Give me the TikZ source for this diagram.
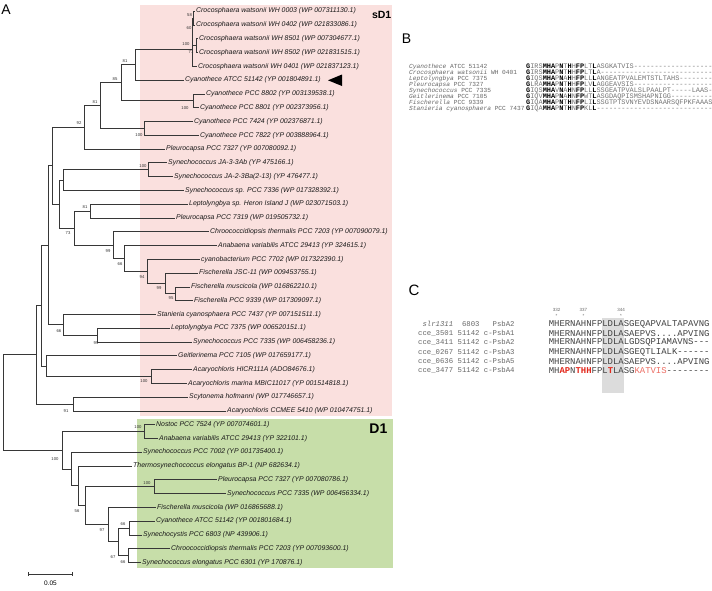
\documentclass[tikz,border=0pt]{standalone}
\usepackage{fontspec}
\setmainfont{Liberation Sans}
\setmonofont{Liberation Mono}
\usetikzlibrary{calc,positioning,arrows.meta}

\definecolor{sdpink}{RGB}{250,224,222}
\definecolor{dgreen}{RGB}{199,222,169}
\definecolor{branchgray}{RGB}{55,55,55}
\definecolor{hlgray}{RGB}{220,220,220}
\definecolor{mutred}{RGB}{226,40,28}
\definecolor{mutpink}{RGB}{236,110,100}

\tikzset{
  leaf/.style={anchor=west, inner xsep=1pt, inner ysep=0pt, text=black!90,
    font=\fontsize{6.9}{7}\selectfont\itshape},
  boot/.style={inner sep=0pt, text=black!80, font=\fontsize{4.2}{4.2}\selectfont},
  branch/.style={draw=branchgray, line width=0.6pt},
  panel/.style={inner sep=0pt, font=\fontsize{14}{14}\selectfont},
  bname/.style={anchor=west, inner sep=0pt, text height=3.6pt, text depth=1pt, text=black!60,
    font=\ttfamily\fontsize{6.2}{6.2}\selectfont},
  bseq/.style={anchor=west, inner sep=0pt, text height=4pt, text depth=1pt, text=black!55,
    font=\ttfamily\fontsize{6.9}{6.9}\selectfont},
  cname/.style={anchor=west, inner sep=0pt, text=black!60, font=\ttfamily\fontsize{7.3}{7.3}\selectfont},
  cseq/.style={anchor=west, inner sep=0pt, text=black!75, font=\ttfamily\fontsize{8.93}{8.93}\selectfont},
  cpos/.style={inner sep=0pt, text=black!60, font=\fontsize{4.5}{4.5}\selectfont},
}
\newcommand{\cv}[1]{\textbf{\color{black}#1}}
\newcommand{\mt}[1]{\textbf{\color{mutred}#1}}

\begin{document}
\begin{tikzpicture}[x=1pt,y=-1pt]

    \useasboundingbox (0,0) rectangle (712,590);

    % clade boxes
    \fill[sdpink] (140,5) rectangle (392,416);
    \fill[dgreen] (137,419) rectangle (393,568);
    \node[anchor=east, inner sep=0pt, font=\bfseries\fontsize{10.5}{10.5}\selectfont] (sd1) at (391.5,15) {sD1};
    \node[anchor=east, inner sep=0pt, font=\bfseries\fontsize{14}{14}\selectfont] (d1) at (387.5,429) {D1};

    \node[panel] (pA) at (6,10) {A};
    \node[panel] (pB) at (406.5,38.5) {B};
    \node[panel, font=\fontsize{15}{15}\selectfont] (pC) at (414,290) {C};

    % ---- tree, y in leaf rows
    \begin{scope}[y=-13.78pt, yshift=2.58pt]

    \node[leaf] (L1) at (195,1) {Crocosphaera watsonii WH 0003 (WP 007311130.1)};
    \node[leaf] (L2) at (195,2) {Crocosphaera watsonii WH 0402 (WP 021833086.1)};
    \node[leaf] (L3) at (198,3) {Crocosphaera watsonii WH 8501 (WP 007304677.1)};
    \node[leaf] (L4) at (198,4) {Crocosphaera watsonii WH 8502 (WP 021831515.1)};
    \node[leaf] (L5) at (197,5) {Crocosphaera watsonii WH 0401 (WP 021837123.1)};
    \node[leaf] (L6) at (184,6) {Cyanothece ATCC 51142 (YP 001804891.1)};
    \node[leaf] (L7) at (205,7) {Cyanothece PCC 8802 (YP 003139538.1)};
    \node[leaf] (L8) at (199,8) {Cyanothece PCC 8801 (YP 002373956.1)};
    \node[leaf] (L9) at (193,9) {Cyanothece PCC 7424 (YP 002376871.1)};
    \node[leaf] (L10) at (199,10) {Cyanothece PCC 7822 (YP 003888964.1)};
    \node[leaf] (L11) at (165,11) {Pleurocapsa PCC 7327 (YP 007080092.1)};
    \node[leaf] (L12) at (167,12) {Synechococcus JA-3-3Ab (YP 475166.1)};
    \node[leaf] (L13) at (173,13) {Synechococcus JA-2-3Ba(2-13) (YP 476477.1)};
    \node[leaf] (L14) at (184,14) {Synechococcus sp. PCC 7336 (WP 017328392.1)};
    \node[leaf] (L15) at (188,15) {Leptolyngbya sp. Heron Island J (WP 023071503.1)};
    \node[leaf] (L16) at (175,16) {Pleurocapsa PCC 7319 (WP 019505732.1)};
    \node[leaf] (L17) at (209,17) {Chroococcidiopsis thermalis PCC 7203 (YP 007090079.1)};
    \node[leaf] (L18) at (217,18) {Anabaena variabilis ATCC 29413 (YP 324615.1)};
    \node[leaf] (L19) at (200,19) {cyanobacterium PCC 7702 (WP 017322390.1)};
    \node[leaf] (L20) at (198,20) {Fischerella JSC-11 (WP 009453755.1)};
    \node[leaf] (L21) at (190,21) {Fischerella muscicola (WP 016862210.1)};
    \node[leaf] (L22) at (193,22) {Fischerella PCC 9339 (WP 017309097.1)};
    \node[leaf] (L23) at (156,23) {Stanieria cyanosphaera PCC 7437 (YP 007151511.1)};
    \node[leaf] (L24) at (170,24) {Leptolyngbya PCC 7375 (WP 006520151.1)};
    \node[leaf] (L25) at (192,25) {Synechococcus PCC 7335 (WP 006458236.1)};
    \node[leaf] (L26) at (177,26) {Geitlerinema PCC 7105 (WP 017659177.1)};
    \node[leaf] (L27) at (192,27) {Acaryochloris HICR111A (ADO84676.1)};
    \node[leaf] (L28) at (187,28) {Acaryochloris marina MBIC11017 (YP 001514818.1)};
    \node[leaf] (L29) at (188,29) {Scytonema hofmanni (WP 017746657.1)};
    \node[leaf] (L30) at (226,30) {Acaryochloris CCMEE 5410 (WP 010474751.1)};
    \node[leaf] (L31) at (155,31) {Nostoc PCC 7524 (YP 007074601.1)};
    \node[leaf] (L32) at (158,32) {Anabaena variabilis ATCC 29413 (YP 322101.1)};
    \node[leaf] (L33) at (142,33) {Synechococcus PCC 7002 (YP 001735400.1)};
    \node[leaf] (L34) at (132,34) {Thermosynechococcus elongatus BP-1 (NP 682634.1)};
    \node[leaf] (L35) at (217,35) {Pleurocapsa PCC 7327 (YP 007080786.1)};
    \node[leaf] (L36) at (226,36) {Synechococcus PCC 7335 (WP 006456334.1)};
    \node[leaf] (L37) at (156,37) {Fischerella muscicola (WP 016865688.1)};
    \node[leaf] (L38) at (155,38) {Cyanothece ATCC 51142 (YP 001801684.1)};
    \node[leaf] (L39) at (142,39) {Synechocystis PCC 6803 (NP 439906.1)};
    \node[leaf] (L40) at (170,40) {Chroococcidiopsis thermalis PCC 7203 (YP 007093600.1)};
    \node[leaf] (L41) at (141,41) {Synechococcus elongatus PCC 6301 (YP 170876.1)};

    % inner nodes
    \coordinate (N58) at (193.2,1.5);
    \coordinate (N71) at (196,3.5);
    \coordinate (N60) at (192.6,2.5);
    \coordinate (N100c) at (192,3.75);
    \coordinate (N81a) at (135,4.875);
    \coordinate (N100b) at (193,7.5);
    \coordinate (N85) at (121,6.19);
    \coordinate (N100d) at (144,9.5);
    \coordinate (N81b) at (100,7.84);
    \coordinate (N92) at (84,9.42);
    \coordinate (NJA) at (148,12.5);
    \coordinate (NJB) at (63,13.25);
    \coordinate (N81c) at (90.5,15.5);
    \coordinate (N95) at (175,21.5);
    \coordinate (N99b) at (165,20.75);
    \coordinate (N94) at (147,19.875);
    \coordinate (N66a) at (124,18.94);
    \coordinate (N99a) at (113,17.97);
    \coordinate (N73) at (74,16.73);
    \coordinate (ND) at (59,14.99);
    \coordinate (NC) at (52,12.2);
    \coordinate (N99c) at (97,24.5);
    \coordinate (N66b) at (63,23.75);
    \coordinate (NB) at (48,17.98);
    \coordinate (N100e) at (151,27.5);
    \coordinate (NGA) at (46,26.75);
    \coordinate (NA) at (41,22.36);
    \coordinate (N91) at (73,29.5);
    \coordinate (NS) at (36,25.93);
    \coordinate (N100f) at (144,31.5);
    \coordinate (NM) at (128,40.5);
    \coordinate (NL) at (129,38.5);
    \coordinate (NK) at (118,39.5);
    \coordinate (NJ) at (108,38.25);
    \coordinate (N100g) at (154,35.5);
    \coordinate (NI) at (85,36.875);
    \coordinate (NH) at (78,35.44);
    \coordinate (NG) at (71,34.22);
    \coordinate (ND1) at (62,32.86);
    \coordinate (root) at (3,29.4);

    % branches
    \draw[branch] (N58) |- (L1.west) (N58) |- (L2.west);
    \draw[branch] (N71) |- (L3.west) (N71) |- (L4.west);
    \draw[branch] (N60) |- (N58) (N60) |- (N71);
    \draw[branch] (N100c) |- (N60) (N100c) |- (L5.west);
    \draw[branch] (N81a) |- (N100c) (N81a) |- (L6.west);
    \draw[branch] (N100b) |- (L7.west) (N100b) |- (L8.west);
    \draw[branch] (N85) |- (N81a) (N85) |- (N100b);
    \draw[branch] (N100d) |- (L9.west) (N100d) |- (L10.west);
    \draw[branch] (N81b) |- (N85) (N81b) |- (N100d);
    \draw[branch] (N92) |- (N81b) (N92) |- (L11.west);
    \draw[branch] (NJA) |- (L12.west) (NJA) |- (L13.west);
    \draw[branch] (NJB) |- (NJA) (NJB) |- (L14.west);
    \draw[branch] (N81c) |- (L15.west) (N81c) |- (L16.west);
    \draw[branch] (N95) |- (L21.west) (N95) |- (L22.west);
    \draw[branch] (N99b) |- (L20.west) (N99b) |- (N95);
    \draw[branch] (N94) |- (L19.west) (N94) |- (N99b);
    \draw[branch] (N66a) |- (L18.west) (N66a) |- (N94);
    \draw[branch] (N99a) |- (L17.west) (N99a) |- (N66a);
    \draw[branch] (N73) |- (N81c) (N73) |- (N99a);
    \draw[branch] (ND) |- (NJB) (ND) |- (N73);
    \draw[branch] (NC) |- (N92) (NC) |- (ND);
    \draw[branch] (N99c) |- (L24.west) (N99c) |- (L25.west);
    \draw[branch] (N66b) |- (L23.west) (N66b) |- (N99c);
    \draw[branch] (NB) |- (NC) (NB) |- (N66b);
    \draw[branch] (N100e) |- (L27.west) (N100e) |- (L28.west);
    \draw[branch] (NGA) |- (L26.west) (NGA) |- (N100e);
    \draw[branch] (NA) |- (NB) (NA) |- (NGA);
    \draw[branch] (N91) |- (L29.west) (N91) |- (L30.west);
    \draw[branch] (NS) |- (NA) (NS) |- (N91);
    \draw[branch] (N100f) |- (L31.west) (N100f) |- (L32.west);
    \draw[branch] (NM) |- (L40.west) (NM) |- (L41.west);
    \draw[branch] (NL) |- (L38.west) (NL) |- (L39.west);
    \draw[branch] (NK) |- (NL) (NK) |- (NM);
    \draw[branch] (NJ) |- (L37.west) (NJ) |- (NK);
    \draw[branch] (N100g) |- (L35.west) (N100g) |- (L36.west);
    \draw[branch] (NI) |- (N100g) (NI) |- (NJ);
    \draw[branch] (NH) |- (L34.west) (NH) |- (NI);
    \draw[branch] (NG) |- (L33.west) (NG) |- (NH);
    \draw[branch] (ND1) |- (N100f) (ND1) |- (NG);
    \draw[branch] (root) |- (NS) (root) |- (ND1);

    \end{scope}

    % bootstrap values
    \node[boot] (b58) at (189.5,14.7) {58};
    \node[boot] (b60) at (189,28.3) {60};
    \node[boot] (b100c) at (186,44.3) {100};
    \node[boot] (b71) at (191,51.7) {71};
    \node[boot] (b81a) at (125,61) {81};
    \node[boot] (b85) at (115,79) {85};
    \node[boot] (b100b) at (185,108) {100};
    \node[boot] (b81b) at (95,102) {81};
    \node[boot] (b92) at (79,123) {92};
    \node[boot] (b100d) at (139,135) {100};
    \node[boot] (bJA) at (143,165.7) {100};
    \node[boot] (b81c) at (85,207.3) {81};
    \node[boot] (b73) at (68,233.3) {73};
    \node[boot] (b99a) at (108,250.7) {99};
    \node[boot] (b66a) at (120,264) {66};
    \node[boot] (b94) at (142,276.7) {94};
    \node[boot] (b99b) at (159,288.3) {99};
    \node[boot] (b95) at (171,298.5) {95};
    \node[boot] (b66b) at (59,330.7) {66};
    \node[boot] (b99c) at (96,343.3) {99};
    \node[boot] (b100e) at (144,380.7) {100};
    \node[boot] (b91) at (66,410.7) {91};
    \node[boot] (b100f) at (138,426.7) {100};
    \node[boot] (bD1) at (55,459) {100};
    \node[boot] (b100g) at (147,482.7) {100};
    \node[boot] (b56) at (77,510.7) {56};
    \node[boot] (b97) at (102,530) {97};
    \node[boot] (b66c) at (123,524.3) {66};
    \node[boot] (b67) at (113,556.7) {67};
    \node[boot] (b66d) at (123,561.7) {66};

    % marker for ATCC 51142
    \fill (328,80.3) -- (342,74.5) -- (342,86) -- cycle;

    % scale bar
    \coordinate (s0) at (28,574);
    \coordinate (s1) at (73,574);
    \draw[branch, {Bar[width=4pt]}-{Bar[width=4pt]}] (s0) -- (s1);
    \node[inner sep=0pt, font=\fontsize{6.5}{6.5}\selectfont] (sc) at (50.5,583) {0.05};

    % ---- panel B
    \node[bname] (bn1) at (409,66.7) {\textit{Cyanothece} ATCC 51142};
    \node[bname] (bn2) at (409,72.75) {\textit{Crocosphaera watsonii} WH 0401};
    \node[bname] (bn3) at (409,78.8) {\textit{Leptolyngbya} PCC 7375};
    \node[bname] (bn4) at (409,84.85) {\textit{Pleurocapsa} PCC 7327};
    \node[bname] (bn5) at (409,90.9) {\textit{Synechococcus} PCC 7335};
    \node[bname] (bn6) at (409,96.95) {\textit{Geitlerinema} PCC 7105};
    \node[bname] (bn7) at (409,103) {\textit{Fischerella} PCC 9339};
    \node[bname] (bn8) at (409,109.05) {\textit{Stanieria cyanosphaera} PCC 7437};

    \node[bseq] (bs1) at (526,66.7) {\cv{G}IRS\cv{MHA}P\cv{N}T\cv{H}H\cv{FP}LT\cv{L}ASGKATVIS-------------------};
    \node[bseq] (bs2) at (526,72.75) {\cv{G}IRS\cv{MHA}P\cv{N}T\cv{H}H\cv{FP}LT\cv{L}A---------------------------};
    \node[bseq] (bs3) at (526,78.8) {\cv{G}IQS\cv{MHA}P\cv{N}A\cv{H}H\cv{FP}LL\cv{L}ANGEATPVALEMTSTLTAHS--------};
    \node[bseq] (bs4) at (526,84.85) {\cv{G}LRA\cv{MHA}P\cv{N}T\cv{H}H\cv{FP}LV\cv{L}AGGEAVSIS-------------------};
    \node[bseq] (bs5) at (526,90.9) {\cv{G}IQS\cv{MHA}V\cv{N}A\cv{H}N\cv{FP}LL\cv{L}SSGEATPVALSLPAALPT-----LAAS-};
    \node[bseq] (bs6) at (526,96.95) {\cv{G}IQV\cv{MHA}P\cv{N}A\cv{H}N\cv{FP}WT\cv{L}ASGDAQPISMSHAPNIGG----------};
    \node[bseq] (bs7) at (526,103) {\cv{G}IQA\cv{MHA}P\cv{N}T\cv{H}N\cv{FP}LI\cv{L}SSGTPTSVNYEVDSNAARSQFPKFAAAS};
    \node[bseq] (bs8) at (526,109.05) {\cv{G}IQA\cv{MHA}P\cv{N}T\cv{H}N\cv{FP}KL\cv{L}----------------------------};

    % ---- panel C
    \fill[hlgray] (602.2,318) rectangle (623.6,393);

    \node[cpos] (p332) at (556.6,310) {332};
    \node[cpos] (p337) at (583.4,310) {337};
    \node[cpos] (p344) at (621,310) {344};
    \node[cpos] (a332) at (556.6,316) {*};
    \node[cpos] (a337) at (583.4,316) {*};
    \node[cpos] (a344) at (621,316) {*};

    \node[cname] (cn1) at (418,324) {~\textit{slr1311}~~6803~~~PsbA2};
    \node[cname] (cn2) at (418,333.3) {cce\_3501~51142~c-PsbA1};
    \node[cname] (cn3) at (418,342.6) {cce\_3411~51142~c-PsbA2};
    \node[cname] (cn4) at (418,351.9) {cce\_0267~51142~c-PsbA3};
    \node[cname] (cn5) at (418,361.2) {cce\_0636~51142~c-PsbA5};
    \node[cname] (cn6) at (418,370.5) {cce\_3477~51142~c-PsbA4};

    \node[cseq] (cs1) at (548.6,324) {MHERNAHNFPLDLASGEQAPVALTAPAVNG};
    \node[cseq] (cs2) at (548.6,333.3) {MHERNAHNFPLDLASAEPVS....APVING};
    \node[cseq] (cs3) at (548.6,342.6) {MHERNAHNFPLDLALGDSQPIAMAVNS---};
    \node[cseq] (cs4) at (548.6,351.9) {MHERNAHNFPLDLASGEQTLIALK------};
    \node[cseq] (cs5) at (548.6,361.2) {MHERNAHNFPLDLASAEPVS....APVING};
    \node[cseq] (cs6) at (548.6,370.5) {MH\mt{AP}N\mt{THH}FPL\mt{T}LASG\textcolor{mutpink}{KATVIS}--------};

\end{tikzpicture}
\end{document}
